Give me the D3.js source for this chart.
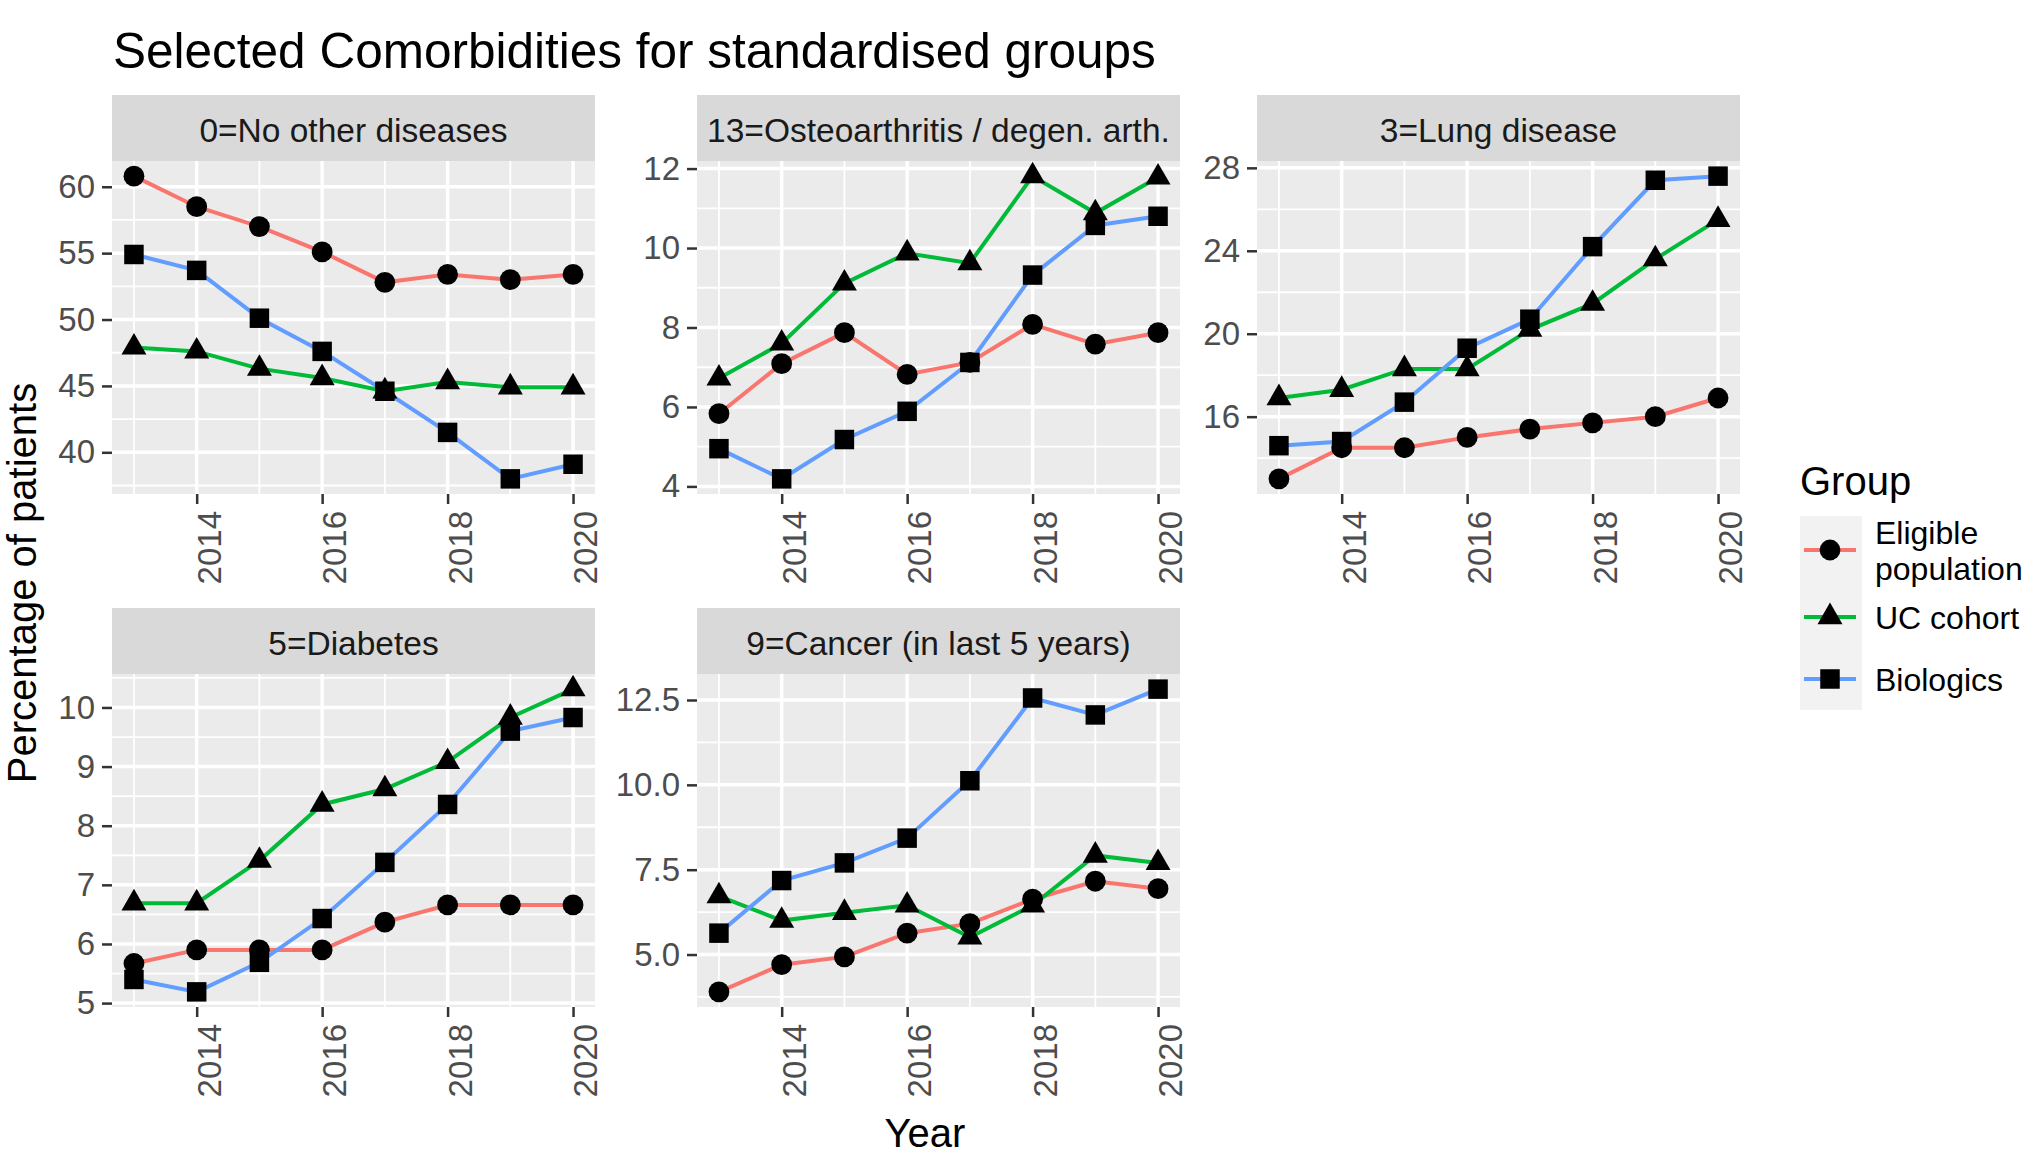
<!DOCTYPE html>
<html>
<head>
<meta charset="utf-8">
<script src="https://cdn.jsdelivr.net/npm/d3@7"></script>
<style>
  body { margin: 0; background: #fff; }
  text { font-family: 'Liberation Sans', Arial, sans-serif; }
</style>
</head>
<body>
<div id="chart"></div>
<script>
let years = [2013, 2014, 2015, 2016, 2017, 2018, 2019, 2020]
let xTicks = [2014, 2016, 2018, 2020]

let panelTitles = [
  '0=No other diseases',
  '13=Osteoarthritis / degen. arth.',
  '3=Lung disease',
  '5=Diabetes',
  '9=Cancer (in last 5 years)'
]

// one row per panel, one value per year
let eligible = [
  [60.8, 58.5, 57.0, 55.1, 52.8, 53.4, 53.0, 53.4],
  [5.83, 7.09, 7.87, 6.82, 7.12, 8.08, 7.58, 7.87],
  [13.0, 14.5, 14.5, 15.0, 15.4, 15.7, 16.0, 16.9],
  [5.67, 5.9, 5.9, 5.9, 6.37, 6.66, 6.66, 6.66],
  [3.9, 4.7, 4.93, 5.63, 5.91, 6.63, 7.16, 6.94]
]
let ucCohort = [
  [47.9, 47.6, 46.3, 45.6, 44.6, 45.3, 44.9, 44.9],
  [6.72, 7.6, 9.11, 9.87, 9.62, 11.81, 10.88, 11.78],
  [16.9, 17.3, 18.3, 18.3, 20.2, 21.45, 23.6, 25.5],
  [6.69, 6.69, 7.41, 8.36, 8.62, 9.08, 9.83, 10.31],
  [6.72, 6.0, 6.23, 6.45, 5.51, 6.45, 7.92, 7.7]
]
let biologics = [
  [54.9, 53.7, 50.1, 47.6, 44.6, 41.5, 38.0, 39.1],
  [4.95, 4.19, 5.18, 5.89, 7.12, 9.32, 10.57, 10.8],
  [14.6, 14.8, 16.7, 19.3, 20.7, 24.2, 27.4, 27.6],
  [5.4, 5.19, 5.69, 6.43, 7.38, 8.36, 9.6, 9.83],
  [5.63, 7.18, 7.7, 8.43, 10.12, 12.56, 12.06, 12.82]
]

let yTicks = [
  [40, 45, 50, 55, 60],
  [4, 6, 8, 10, 12],
  [16, 20, 24, 28],
  [5, 6, 7, 8, 9, 10],
  [5, 7.5, 10, 12.5]
]
let yFormats = ['d', 'd', 'd', 'd', '.1f']

let groupNames = ['Eligible population', 'UC cohort', 'Biologics']
let groupLabels = [['Eligible', 'population'], ['UC cohort'], ['Biologics']]
let groupColors = ['#F8766D', '#00BA38', '#619CFF']
let groupSymbols = [d3.symbolCircle, d3.symbolTriangle, d3.symbolSquare]
let symbolSizes = [340, 270, 380]
let groupData = [eligible, ucCohort, biologics]

let width = 2040
let height = 1156

// panel layout (facet_wrap, 3 columns, free y)
let colLeft = [112, 697, 1257]
let rowTop = [95, 608]
let panelWidth = 483
let stripHeight = 66
let plotHeight = 333

let svg = d3
  .select('#chart')
  .append('svg')
  .attr('width', width)
  .attr('height', height)

svg
  .append('text')
  .attr('x', 113)
  .attr('y', 68)
  .attr('font-size', 49.5)
  .attr('fill', '#000')
  .text('Selected Comorbidities for standardised groups')

function padded(extent) {
  let pad = (extent[1] - extent[0]) * 0.05
  return [extent[0] - pad, extent[1] + pad]
}

function minorOf(ticks, domain) {
  let step = ticks[1] - ticks[0]
  let out = ticks.map(t => t - step / 2)
  out.push(ticks[ticks.length - 1] + step / 2)
  return out.filter(v => v >= domain[0] && v <= domain[1])
}

panelTitles.forEach((title, i) => {
  let col = i % 3
  let row = Math.floor(i / 3)
  let left = colLeft[col]
  let top = rowTop[row] + stripHeight

  let g = svg.append('g').attr('transform', `translate(${left}, ${top})`)

  let xScale = d3
    .scaleLinear()
    .domain(padded([years[0], years[years.length - 1]]))
    .range([0, panelWidth])

  let all = groupData.flatMap(d => d[i])
  let yScale = d3
    .scaleLinear()
    .domain(padded(d3.extent(all)))
    .range([plotHeight, 0])

  // strip
  svg
    .append('rect')
    .attr('x', left)
    .attr('y', rowTop[row])
    .attr('width', panelWidth)
    .attr('height', stripHeight)
    .attr('fill', '#D9D9D9')
  svg
    .append('text')
    .attr('x', left + panelWidth / 2)
    .attr('y', rowTop[row] + stripHeight / 2 + 2)
    .attr('dy', '0.36em')
    .attr('text-anchor', 'middle')
    .attr('font-size', 33.5)
    .attr('fill', '#1A1A1A')
    .text(title)

  // panel background
  g.append('rect')
    .attr('width', panelWidth)
    .attr('height', plotHeight)
    .attr('fill', '#EBEBEB')

  // minor grid
  let yMinor = minorOf(yTicks[i], yScale.domain())
  let xMinor = minorOf(xTicks, xScale.domain())
  g.selectAll('.ymin')
    .data(yMinor)
    .enter()
    .append('line')
    .attr('x1', 0)
    .attr('x2', panelWidth)
    .attr('y1', d => yScale(d))
    .attr('y2', d => yScale(d))
    .attr('stroke', '#fff')
    .attr('stroke-width', 1.8)
  g.selectAll('.xmin')
    .data(xMinor)
    .enter()
    .append('line')
    .attr('y1', 0)
    .attr('y2', plotHeight)
    .attr('x1', d => xScale(d))
    .attr('x2', d => xScale(d))
    .attr('stroke', '#fff')
    .attr('stroke-width', 1.8)

  // major grid
  g.selectAll('.ymaj')
    .data(yTicks[i])
    .enter()
    .append('line')
    .attr('x1', 0)
    .attr('x2', panelWidth)
    .attr('y1', d => yScale(d))
    .attr('y2', d => yScale(d))
    .attr('stroke', '#fff')
    .attr('stroke-width', 3.5)
  g.selectAll('.xmaj')
    .data(xTicks)
    .enter()
    .append('line')
    .attr('y1', 0)
    .attr('y2', plotHeight)
    .attr('x1', d => xScale(d))
    .attr('x2', d => xScale(d))
    .attr('stroke', '#fff')
    .attr('stroke-width', 3.5)

  // y axis
  let yAxis = g
    .append('g')
    .call(
      d3
        .axisLeft(yScale)
        .tickValues(yTicks[i])
        .tickFormat(d3.format(yFormats[i]))
        .tickSize(10)
        .tickPadding(7)
    )
  yAxis.select('.domain').remove()
  yAxis.selectAll('line').attr('stroke', '#333').attr('stroke-width', 2.5)
  yAxis
    .selectAll('text')
    .attr('font-size', 33)
    .attr('fill', '#4D4D4D')
    .attr('font-family', "'Liberation Sans', Arial, sans-serif")

  // x axis, labels turned 90 degrees
  let xAxis = g
    .append('g')
    .attr('transform', `translate(0, ${plotHeight})`)
    .call(
      d3
        .axisBottom(xScale)
        .tickValues(xTicks)
        .tickFormat(d3.format('d'))
        .tickSize(10)
    )
  xAxis.select('.domain').remove()
  xAxis.selectAll('line').attr('stroke', '#333').attr('stroke-width', 2.5)
  xAxis
    .selectAll('text')
    .attr('font-size', 33)
    .attr('fill', '#4D4D4D')
    .attr('font-family', "'Liberation Sans', Arial, sans-serif")
    .attr('text-anchor', 'end')
    .attr('transform', 'rotate(-90)')
    .attr('x', -17)
    .attr('y', 0)
    .attr('dy', '0.72em')

  // lines and points
  let line = d3
    .line()
    .x((d, j) => xScale(years[j]))
    .y(d => yScale(d))

  groupData.forEach((series, k) => {
    g.append('path')
      .datum(series[i])
      .attr('d', line)
      .attr('fill', 'none')
      .attr('stroke', groupColors[k])
      .attr('stroke-width', 4)
  })

  groupData.forEach((series, k) => {
    g.selectAll('.pt' + k)
      .data(series[i])
      .enter()
      .append('path')
      .attr('transform', (d, j) => `translate(${xScale(years[j])}, ${yScale(d)})`)
      .attr('d', d3.symbol().type(groupSymbols[k]).size(symbolSizes[k]))
      .attr('fill', '#000')
  })
})

// axis titles
svg
  .append('text')
  .attr('x', 925)
  .attr('y', 1147)
  .attr('text-anchor', 'middle')
  .attr('font-size', 40)
  .attr('fill', '#000')
  .text('Year')

svg
  .append('text')
  .attr('transform', 'translate(36, 583) rotate(-90)')
  .attr('text-anchor', 'middle')
  .attr('font-size', 40)
  .attr('fill', '#000')
  .text('Percentage of patients')

// legend
let legend = svg.append('g').attr('transform', 'translate(1800, 0)')
legend
  .append('text')
  .attr('x', 0)
  .attr('y', 495)
  .attr('font-size', 40)
  .attr('fill', '#000')
  .text('Group')

legend
  .append('rect')
  .attr('x', 0)
  .attr('y', 516)
  .attr('width', 62)
  .attr('height', 194)
  .attr('fill', '#F2F2F2')

let keyY = [550, 617, 679]
groupNames.forEach((name, k) => {
  legend
    .append('line')
    .attr('x1', 4)
    .attr('x2', 56)
    .attr('y1', keyY[k])
    .attr('y2', keyY[k])
    .attr('stroke', groupColors[k])
    .attr('stroke-width', 4)
  legend
    .append('path')
    .attr('transform', `translate(30, ${keyY[k]})`)
    .attr('d', d3.symbol().type(groupSymbols[k]).size(symbolSizes[k]))
    .attr('fill', '#000')
  // one text element per label line
  let lines = groupLabels[k]
  lines.forEach((s, m) => {
    legend
      .append('text')
      .attr('x', 75)
      .attr('y', keyY[k] + 12 - (lines.length - 1) * 18 + m * 36)
      .attr('font-size', 32)
      .attr('fill', '#000')
      .text(s)
  })
})
</script>
</body>
</html>
